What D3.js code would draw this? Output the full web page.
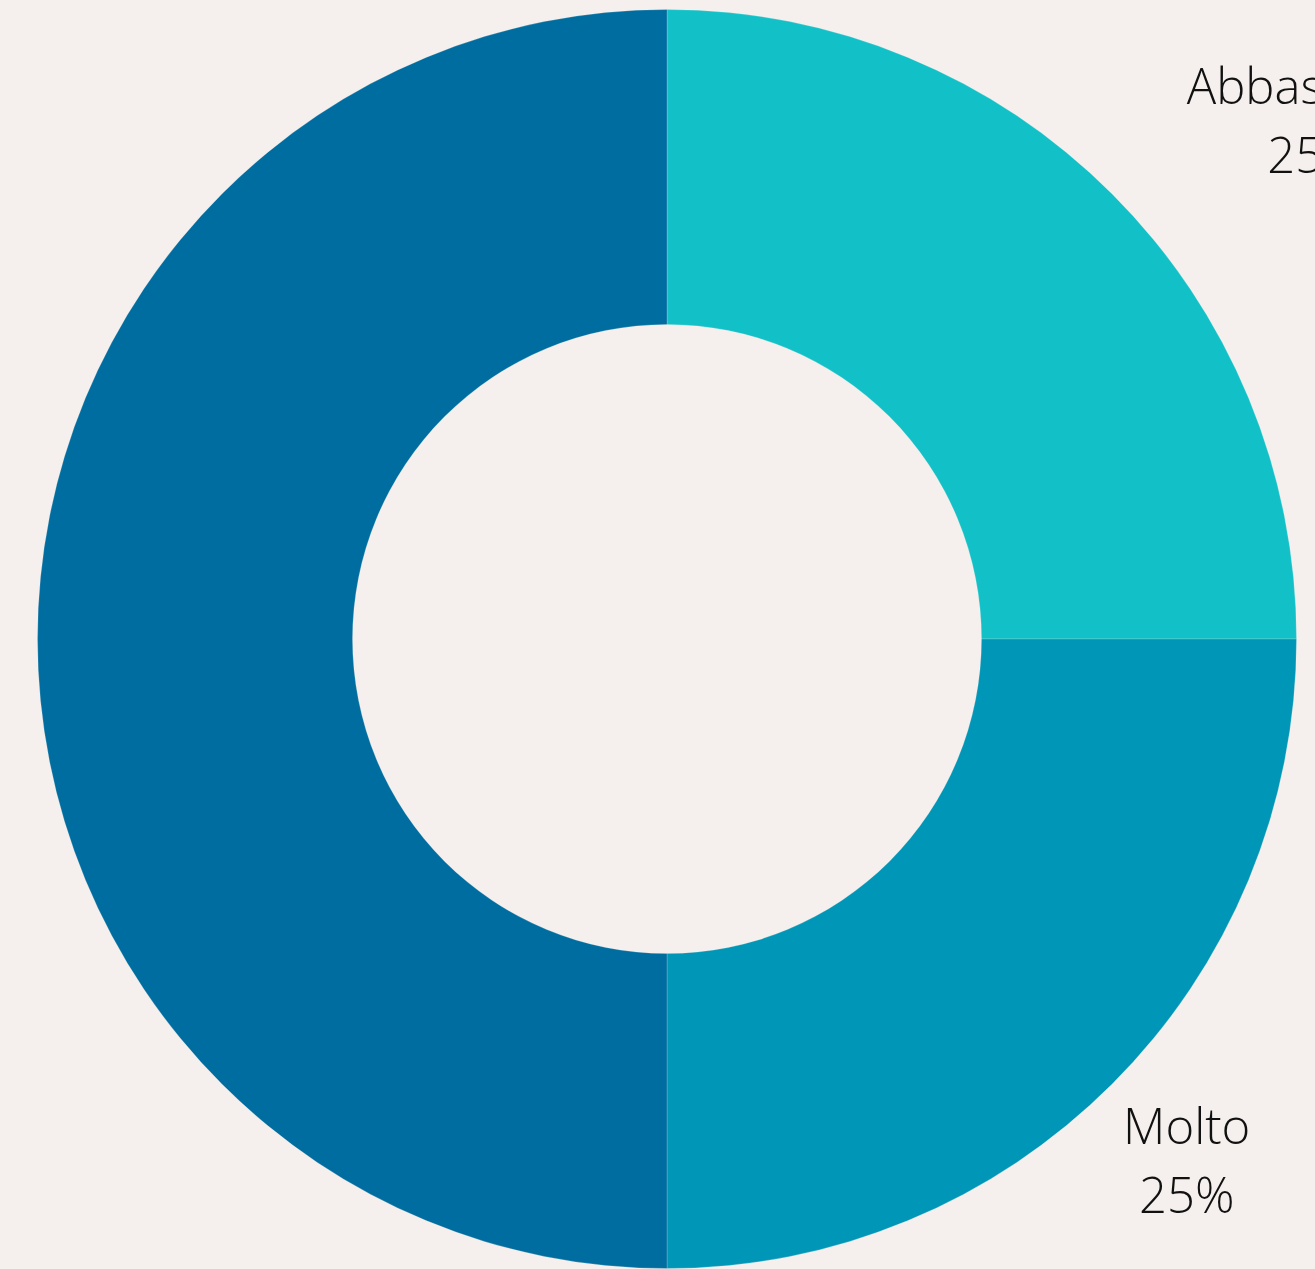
<!DOCTYPE html>
<html>
<head>
<meta charset="utf-8">
<script src="https://cdn.jsdelivr.net/npm/d3@7"></script>
<style>
  html, body { margin: 0; padding: 0; background: #F5F0ED; overflow: hidden; }
  svg { display: block; }
  text { font-family: "Open Sans", sans-serif; font-weight: 300; fill: #111; }
</style>
</head>
<body>
<svg id="chart" width="1315" height="1269"></svg>
<script>
// Data
const categories = ["Abbastanza", "Molto", "Poco"];
const values = [25, 25, 50];
const colors = ["#12C1C8", "#0096B7", "#006DA0"];

const W = 1315, H = 1269;
const cx = 667, cy = 639;
const outerR = 629.5, innerR = 314.5;
const labelR = 735;

const svg = d3.select("#chart");
svg.append("rect").attr("width", W).attr("height", H).attr("fill", "#F5F0ED");

const data = categories.map((c, i) => ({ name: c, value: values[i], color: colors[i] }));
const pie = d3.pie().value(d => d.value).sort(null);
const arcs = pie(data);

const arc = d3.arc().innerRadius(innerR).outerRadius(outerR);
const labelArc = d3.arc().innerRadius(labelR).outerRadius(labelR);

const g = svg.append("g").attr("transform", `translate(${cx},${cy})`);

g.selectAll("path.slice")
  .data(arcs)
  .join("path")
  .attr("class", "slice")
  .attr("d", arc)
  .attr("fill", d => d.data.color)
  .attr("stroke", "#F5F0ED")
  .attr("stroke-opacity", 0.35)
  .attr("stroke-width", 0.6);

const total = d3.sum(values);
const fmt = d => Math.round(d / total * 100) + "%";

// only labels whose anchor point falls inside the canvas are visible in the reference
const visibleArcs = arcs.filter(d => {
  const [lx, ly] = labelArc.centroid(d);
  return cx + lx >= 0 && cx + lx <= W && cy + ly >= 0 && cy + ly <= H;
});

const labels = g.selectAll("g.label")
  .data(visibleArcs)
  .join("g")
  .attr("class", "label");

labels.each(function(d) {
  const [lx, ly] = labelArc.centroid(d);
  const sel = d3.select(this);
  const t = sel.append("text")
    .attr("text-anchor", "middle")
    .style("font-size", "49px");
  t.append("tspan").attr("x", 0).attr("y", -15).text(d.data.name);
  t.append("tspan").attr("x", 0).attr("y", 54).text(fmt(d.data.value));
  const w = t.node().getBBox().width;
  const mid = (d.startAngle + d.endAngle) / 2;
  // upper-right labels hang to the right of their anchor point
  const shift = (mid < Math.PI / 2) ? w / 2 : 0;
  sel.attr("transform", `translate(${lx + shift},${ly})`);
});
</script>
</body>
</html>
